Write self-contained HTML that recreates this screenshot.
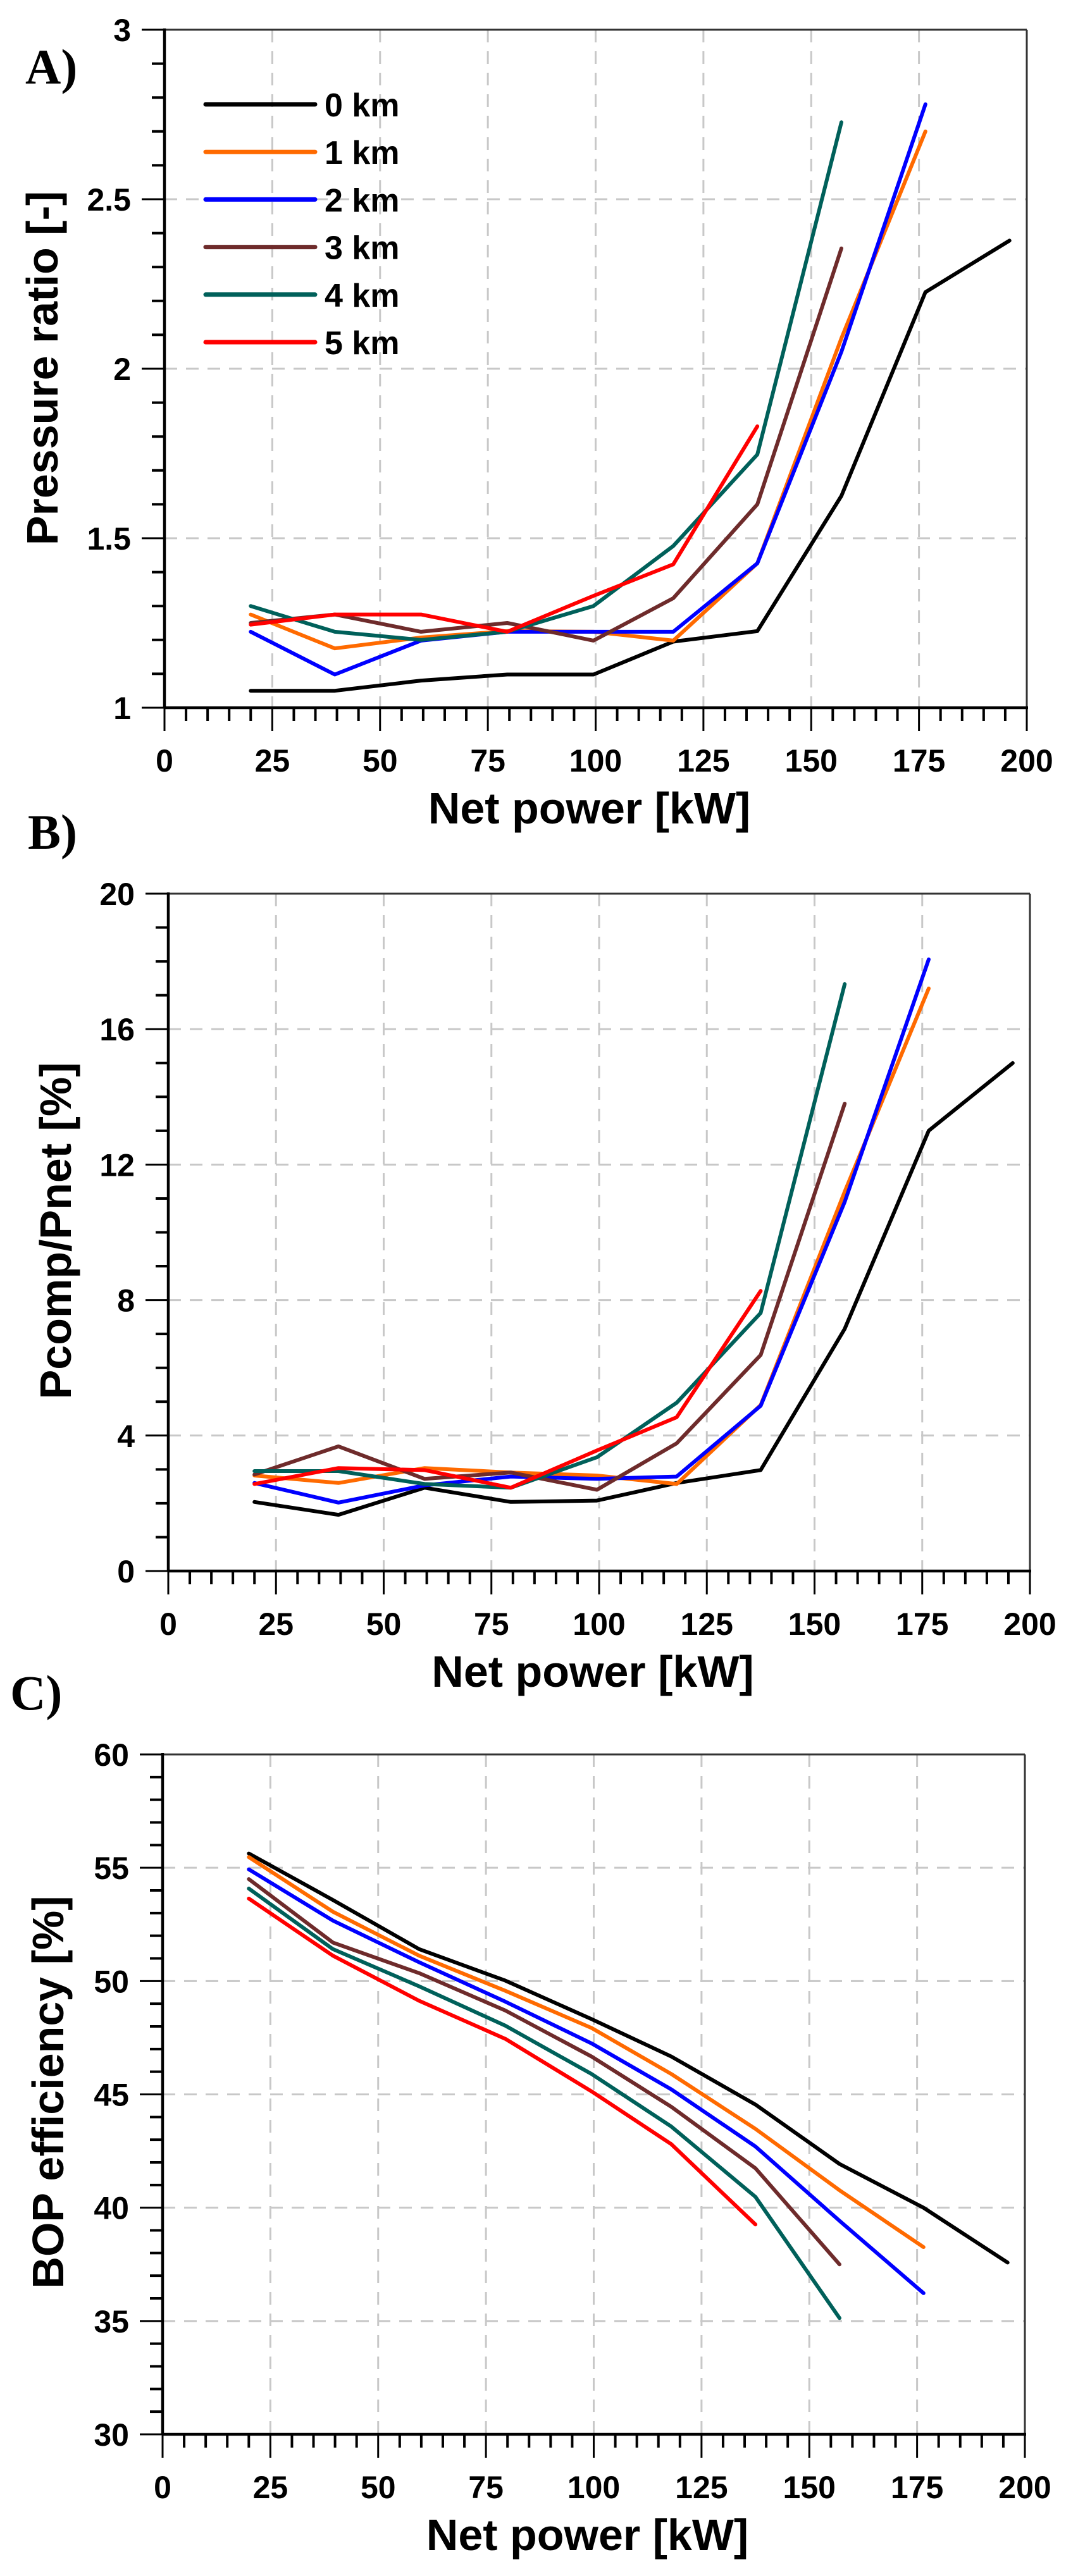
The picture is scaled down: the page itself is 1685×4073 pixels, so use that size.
<!DOCTYPE html>
<html><head><meta charset="utf-8"><style>
html,body{margin:0;padding:0;background:#fff;}
svg{display:block;}
text{font-family:"Liberation Sans",Arial,sans-serif;font-weight:bold;fill:#000;}
</style></head><body>
<svg id="fig" width="1685" height="4073" viewBox="0 0 1685 4073" xmlns="http://www.w3.org/2000/svg"></svg>
<script>
const xValues = [20, 39.5, 59.5, 79.5, 99.5, 118, 137.5, 157, 176.5, 196];
const seriesNames = ["0 km","1 km","2 km","3 km","4 km","5 km"];
const seriesColors = ["#000000","#ff6a00","#0000ff","#6e2b2b","#00605a","#ff0000"];
const xTicks = [0,25,50,75,100,125,150,175,200];

const prA0 = [1.05,1.05,1.08,1.098,1.098,1.195,1.226,1.625,2.226,2.378];
const prA1 = [1.275,1.175,1.207,1.226,1.224,1.198,1.426,2.09,2.70];
const prA2 = [1.224,1.098,1.198,1.224,1.224,1.224,1.426,2.05,2.78];
const prA3 = [1.25,1.275,1.224,1.25,1.198,1.323,1.60,2.355];
const prA4 = [1.30,1.224,1.20,1.224,1.30,1.477,1.747,2.727];
const prA5 = [1.245,1.275,1.275,1.224,1.33,1.423,1.83];
const yTicksA = [1,1.5,2,2.5,3];
const yLabelsA = ["1","1.5","2","2.5","3"];

const pcB0 = [2.04,1.66,2.46,2.04,2.08,2.6,2.98,7.15,13.0,15.0];
const pcB1 = [2.82,2.6,3.04,2.91,2.82,2.57,4.9,11.2,17.2];
const pcB2 = [2.6,2.02,2.53,2.79,2.72,2.79,4.88,10.9,18.06];
const pcB3 = [2.85,3.68,2.72,2.91,2.4,3.77,6.38,13.8];
const pcB4 = [2.95,2.95,2.57,2.46,3.36,4.97,7.62,17.33];
const pcB5 = [2.57,3.04,2.98,2.46,3.56,4.54,8.27];
const yTicksB = [0,4,8,12,16,20];

const efC0 = [55.63,53.58,51.41,50.02,48.32,46.67,44.55,41.93,40.0,37.58];
const efC1 = [55.47,53.06,51.12,49.57,47.93,45.9,43.48,40.77,38.26];
const efC2 = [54.93,52.67,50.83,49.09,47.25,45.22,42.7,39.42,36.23];
const efC3 = [54.5,51.7,50.35,48.7,46.67,44.45,41.74,37.5];
const efC4 = [54.08,51.41,49.77,48.03,45.9,43.58,40.48,35.13];
const efC5 = [53.64,51.12,49.13,47.45,45.13,42.8,39.26];
const yTicksC = [30,35,40,45,50,55,60];

const NS="http://www.w3.org/2000/svg";
const svg=document.getElementById('fig');
function mk(tag,attrs,parent){const e=document.createElementNS(NS,tag);for(const k in attrs)e.setAttribute(k,attrs[k]);(parent||svg).appendChild(e);return e;}

function panel(cfg){
  const g=mk('g',{});
  
  
  const {x0,x1,yTop,yBot,yMin,yMax}=cfg;
  const sx=v=>x0+(v-0)/(200-0)*(x1-x0);
  const sy=v=>yBot-(v-yMin)/(yMax-yMin)*(yBot-yTop);
  // grid
  xTicks.forEach(t=>{ if(t>0&&t<200){const l=mk('line',{x1:sx(t),x2:sx(t),y1:yTop,y2:yBot,stroke:'#c8c8c8','stroke-width':3,'stroke-dasharray':'20 14'},g);
    
    }});
  cfg.yTicks.forEach(t=>{ if(t>yMin&&t<yMax){const l=mk('line',{x1:x0,x2:x1,y1:sy(t),y2:sy(t),stroke:'#c8c8c8','stroke-width':3,'stroke-dasharray':'20 14'},g);
    
    }});
  // series
  cfg.series.forEach((arr,i)=>{
    const pts=arr.map((v,j)=>sx(xValues[j]).toFixed(1)+','+sy(v).toFixed(1)).join(' ');
    const p=mk('polyline',{points:pts,fill:'none',stroke:seriesColors[i],'stroke-width':6,'stroke-linejoin':'round','stroke-linecap':'round'},g);
    
    
  });
  // frame
  mk('line',{x1:x0,x2:x1,y1:yTop,y2:yTop,stroke:'#333','stroke-width':3},g);
  mk('line',{x1:x1,x2:x1,y1:yTop,y2:yBot,stroke:'#333','stroke-width':3},g);
  const ax=mk('line',{x1:x0,x2:x1+2,y1:yBot,y2:yBot,stroke:'#000','stroke-width':4.5},g);
  
  
  const ay=mk('line',{x1:x0,x2:x0,y1:yTop-2,y2:yBot,stroke:'#000','stroke-width':4.5},g);
  
  
  // x ticks
  for(let t=0;t<=200;t+=5){const maj=t%25===0;
    mk('line',{x1:sx(t),x2:sx(t),y1:yBot,y2:yBot+(maj?37:21),stroke:'#000','stroke-width':maj?3:4},g);}
  xTicks.forEach(t=>{const tx=mk('text',{x:sx(t),y:yBot+101,'text-anchor':'middle','font-size':50},g);tx.textContent=t;
    
    });
  // y ticks
  const step=cfg.minor;
  for(let v=yMin;v<=yMax+1e-9;v+=step){const isMaj=cfg.yTicks.some(t=>Math.abs(t-v)<1e-6);
    mk('line',{x1:x0-(isMaj?36:20),x2:x0,y1:sy(v),y2:sy(v),stroke:'#000','stroke-width':isMaj?3:4},g);}
  cfg.yTicks.forEach((t,i)=>{const tx=mk('text',{x:x0-53,y:sy(t)+18,'text-anchor':'end','font-size':50},g);tx.textContent=cfg.yLabels?cfg.yLabels[i]:t;
    
    });
  // titles
  const xt=mk('text',{x:(x0+x1)/2-10,y:yBot+183,'text-anchor':'middle','font-size':70},g);xt.textContent='Net power [kW]';
  
  
  const yt=mk('text',{x:0,y:0,'text-anchor':'middle','font-size':70,transform:`translate(${cfg.ytx},${cfg.yty}) rotate(-90)`},g);yt.textContent=cfg.ytitle;
  
  
  const pl=mk('text',{x:cfg.lx,y:cfg.ly,'font-size':78,style:'font-family:"Liberation Serif",serif;font-weight:bold'},g);pl.textContent=cfg.label;
  
  
  return {g,sx,sy};
}

const A=panel({id:'a',x0:260,x1:1623,yTop:47,yBot:1119,yMin:1,yMax:3,minor:0.1,yTicks:yTicksA,yLabels:yLabelsA,
  series:[prA0,prA1,prA2,prA3,prA4,prA5],ytitle:'Pressure ratio [-]',ytx:91,yty:582,label:'A)',lx:40,ly:132});
panel({id:'b',x0:266,x1:1628,yTop:1413,yBot:2484,yMin:0,yMax:20,minor:1,yTicks:yTicksB,
  series:[pcB0,pcB1,pcB2,pcB3,pcB4,pcB5],ytitle:'Pcomp/Pnet [%]',ytx:112,yty:1946,label:'B)',lx:44,ly:1342});
panel({id:'c',x0:257,x1:1620,yTop:2774,yBot:3849,yMin:30,yMax:60,minor:1,yTicks:yTicksC,
  series:[efC0,efC1,efC2,efC3,efC4,efC5],ytitle:'BOP efficiency [%]',ytx:100,yty:3308,label:'C)',lx:16,ly:2703});

// legend (panel A)
const lg=mk('g',{});


seriesNames.forEach((n,i)=>{
  const y=165+i*75.2;
  const ln=mk('line',{x1:325,x2:498,y1:y,y2:y,stroke:seriesColors[i],'stroke-width':7,'stroke-linecap':'round'},lg);
  
  
  const t=mk('text',{x:513,y:y+19,'font-size':52},lg);t.textContent=n;
  
  
});
</script>
</body></html>
